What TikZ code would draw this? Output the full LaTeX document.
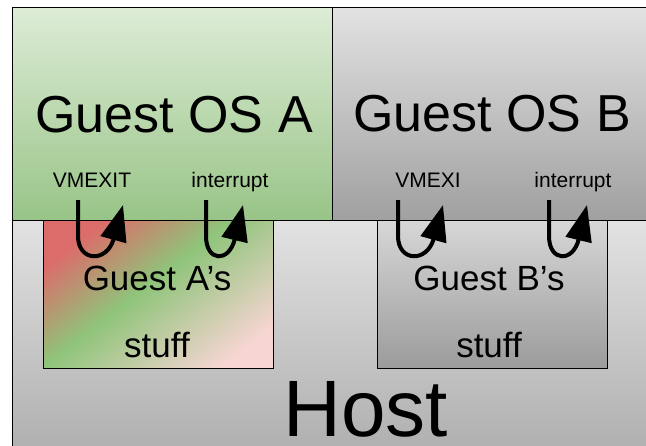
\documentclass[tikz,border=0pt]{standalone}
\usepackage{fontspec}
\setmainfont{Liberation Sans}
\usetikzlibrary{positioning, arrows.meta, calc}

\definecolor{osgreentop}{RGB}{221,236,214}
\definecolor{osgreenbot}{RGB}{152,196,135}
\definecolor{graytop}{RGB}{226,226,226}
\definecolor{graybot}{RGB}{160,160,160}
\definecolor{stuffred}{RGB}{220,108,106}
\definecolor{stuffgreen}{RGB}{143,196,122}
\definecolor{stuffpink}{RGB}{247,213,211}

\pgfdeclarehorizontalshading{stuffmix}{100bp}{color(0bp)=(stuffred); color(25bp)=(stuffred); color(46bp)=(stuffgreen); color(76bp)=(stuffpink); color(100bp)=(stuffpink)}

\tikzset{
  box/.style={draw=black, line width=1.2pt, rectangle, anchor=north west, inner sep=0pt},
  graybox/.style={box, top color=graytop, bottom color=graybot},
  greenbox/.style={box, top color=osgreentop, bottom color=osgreenbot},
  biglabel/.style={anchor=base, inner sep=0pt, font=\fontsize{52}{60}\selectfont},
  smalllabel/.style={anchor=base, inner sep=0pt, font=\fontsize{21}{25}\selectfont},
  midlabel/.style={anchor=base, inner sep=0pt, font=\fontsize{35}{40}\selectfont},
  loop/.style={line width=4pt, -{Triangle[length=36pt,width=26pt]}}
}

\begin{document}
\begin{tikzpicture}[x=1pt, y=-1pt]

	\useasboundingbox (0,0) rectangle (646,445);
	\clip (0,0) rectangle (646,445);

	% boxes %
	\node[graybox, minimum width=700pt, minimum height=300pt] (host) at (12,220) {};
	\node[greenbox, minimum width=320pt, minimum height=213pt] (osA) at (12,7) {};
	\node[graybox, minimum width=400pt, minimum height=213pt] (osB) at (332,7) {};
	\node[box, shading=stuffmix, shading angle=-52, minimum width=230pt, minimum height=148pt] (stuffA) at (43,220) {};
	\node[box, top color=graytop!95!black, bottom color=graybot!105!white, minimum width=230pt, minimum height=148pt] (stuffB) at (377,220) {};

	% labels %
	\node[biglabel] (osAtext) at (174,132) {Guest OS A};
	\node[biglabel] (osBtext) at (492,131) {Guest OS B};
	\node[smalllabel] (exitA) at (92,187) {VMEXIT};
	\node[smalllabel] (intA) at (230,187) {interrupt};
	\node[smalllabel] (exitB) at (428,187) {VMEXI};
	\node[smalllabel] (intB) at (573,187) {interrupt};
	\node[midlabel] (stuffAtext) at (157,290) {Guest A’s};
	\node[midlabel] (stuffAtext2) at (157,357) {stuff};
	\node[midlabel] (stuffBtext) at (489,290) {Guest B’s};
	\node[midlabel] (stuffBtext2) at (489,357) {stuff};
	\node[anchor=base, inner sep=0pt, font=\fontsize{80}{90}\selectfont] (hosttext) at (366,436) {Host};

	% loops %
	\coordinate (exitAin) at (78,200);
	\coordinate (exitAout) at (123,205);
	\coordinate (intAin) at (206,200);
	\coordinate (intAout) at (243,205);
	\coordinate (exitBin) at (398,200);
	\coordinate (exitBout) at (443,205);
	\coordinate (intBin) at (549,200);
	\coordinate (intBout) at (587,205);

	\draw[loop] (exitAin) -- ++(0,36) .. controls +(0,26) and +(-16,58) .. (exitAout);
	\draw[loop] (intAin) -- ++(0,36) .. controls +(0,26) and +(-14,58) .. (intAout);
	\draw[loop] (exitBin) -- ++(0,36) .. controls +(0,26) and +(-16,58) .. (exitBout);
	\draw[loop] (intBin) -- ++(0,36) .. controls +(0,26) and +(-14,58) .. (intBout);

\end{tikzpicture}
\end{document}
